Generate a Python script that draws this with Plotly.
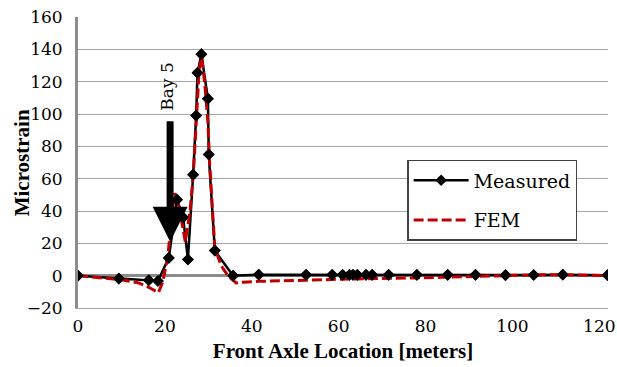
import plotly.graph_objects as go

# Measured strain vs front axle location
meas_x = [0, 9.4, 16.3, 18.4, 20.9, 22.8, 24.2, 25.3, 26.5, 27.2, 27.5, 28.4, 29.9, 30.1,
          31.5, 35.7, 41.6, 52.5, 58.5, 60.9, 62.5, 63.3, 64.3, 66.3, 67.7, 71.5, 78.0,
          85.1, 91.5, 98.4, 104.9, 111.6, 121.9]
meas_y = [0, -1.8, -2.8, -3.3, 11, 47, 36, 10, 62.5, 99, 125.5, 137, 109.5, 75,
          15.5, 0, 0.6, 0.5, 0.5, 0.5, 0.5, 0.5, 0.5, 0.5, 0.5, 0.5, 0.5,
          0.5, 0.5, 0.3, 0.4, 0.6, 0.3]

# FEM prediction
fem_x = [0, 5, 10, 14, 16.5, 18.5, 19.5, 20.7, 21.6, 22.3, 23.3, 24.7, 25.8, 26.6, 27.3,
         27.9, 28.5, 29.2, 29.9, 30.3, 31.5, 33, 34.5, 36.4, 38, 41.8, 52.5, 63.3, 78,
         91.5, 105, 112, 122]
fem_y = [0, -1.2, -2.5, -4.5, -7.5, -10.5, -4, 12, 38, 51, 42, 21, 40, 65, 100,
         128, 135, 118, 95, 70, 17, 6, 0, -4.5, -4, -3.5, -2.8, -2, -1.4,
         -0.4, 0.5, 0.5, 0]

x_ticks = [0, 20, 40, 60, 80, 100, 120]
y_ticks = [-20, 0, 20, 40, 60, 80, 100, 120, 140, 160]

FONT = "DejaVu Serif"
TFONT = "Liberation Serif"
GRID = "#a6a6a6"
AXIS = "#8c8c8c"

fig = go.Figure()
fig.add_trace(go.Scatter(
    x=meas_x, y=meas_y, name="Measured", mode="lines+markers",
    line=dict(color="black", width=2.5),
    marker=dict(symbol="diamond", size=9, color="black"),
    legendgroup="m", legendrank=1))
fig.add_trace(go.Scatter(
    x=fem_x, y=fem_y, name="FEM", mode="lines",
    line=dict(color="#c00000", width=3, dash="10px,4px"),
    legendgroup="f", legendrank=2))
fig.add_trace(go.Scatter(
    x=meas_x, y=meas_y, mode="markers", showlegend=False, hoverinfo="skip",
    marker=dict(symbol="diamond", size=9, color="black")))

fig.add_annotation(
    x=21.2, y=21, ax=21.2, ay=96.5, xref="x", yref="y", axref="x", ayref="y",
    text="", showarrow=True, arrowhead=2, arrowwidth=7, arrowsize=1.0,
    arrowcolor="black", standoff=0)
fig.add_annotation(
    x=20.3, y=117, xref="x", yref="y", text="Bay 5", textangle=-90,
    showarrow=False, font=dict(family=FONT, size=17, color="black"))
# y-axis title
fig.add_annotation(
    x=-0.106, y=0.5, xref="paper", yref="paper", text="<b>Microstrain</b>",
    textangle=-90, showarrow=False, xanchor="center", yanchor="middle",
    font=dict(family=TFONT, size=21, color="black"))

fig.update_layout(
    width=617, height=367,
    margin=dict(l=78, r=9, t=17, b=59, autoexpand=False),
    paper_bgcolor="white", plot_bgcolor="white",
    font=dict(family=FONT, size=17, color="black"),
    showlegend=True,
    legend=dict(x=0.621, y=0.509, xanchor="left", yanchor="top",
                bgcolor="white", bordercolor="#404040", borderwidth=1.5,
                traceorder="grouped", tracegroupgap=12, itemwidth=55,
                font=dict(family=FONT, size=19)),
    xaxis=dict(range=[0, 122], tickvals=x_ticks, showgrid=False, zeroline=False,
               showline=True, linecolor=GRID, linewidth=1, mirror=False,
               ticks="", ticklabelstandoff=3, automargin=False,
               ticklabeloverflow="allow",
               tickfont=dict(family=FONT, size=17),
               title=dict(text="<b>Front Axle Location [meters]</b>", standoff=7,
                          font=dict(family=TFONT, size=21))),
    xaxis2=dict(range=[0, 122], tickvals=x_ticks, overlaying="x", anchor="free",
                position=20 / 180, showline=False, showgrid=False, zeroline=False,
                ticks="outside", ticklen=5, tickwidth=3, tickcolor=AXIS,
                showticklabels=False, layer="below traces"),
    yaxis=dict(range=[-20, 160], tickvals=y_ticks, showgrid=True, gridcolor=GRID,
               gridwidth=1, zeroline=True, zerolinecolor=AXIS, zerolinewidth=3,
               showline=True, linecolor=AXIS, linewidth=3, ticks="",
               ticklabelstandoff=9, automargin=False,
               ticklabeloverflow="allow",
               tickfont=dict(family=FONT, size=17)),
)

fig.write_html(
    "out.html",
    config={"displayModeBar": False},
    post_script="document.body.style.margin='0';document.body.style.overflow='hidden';",
)
